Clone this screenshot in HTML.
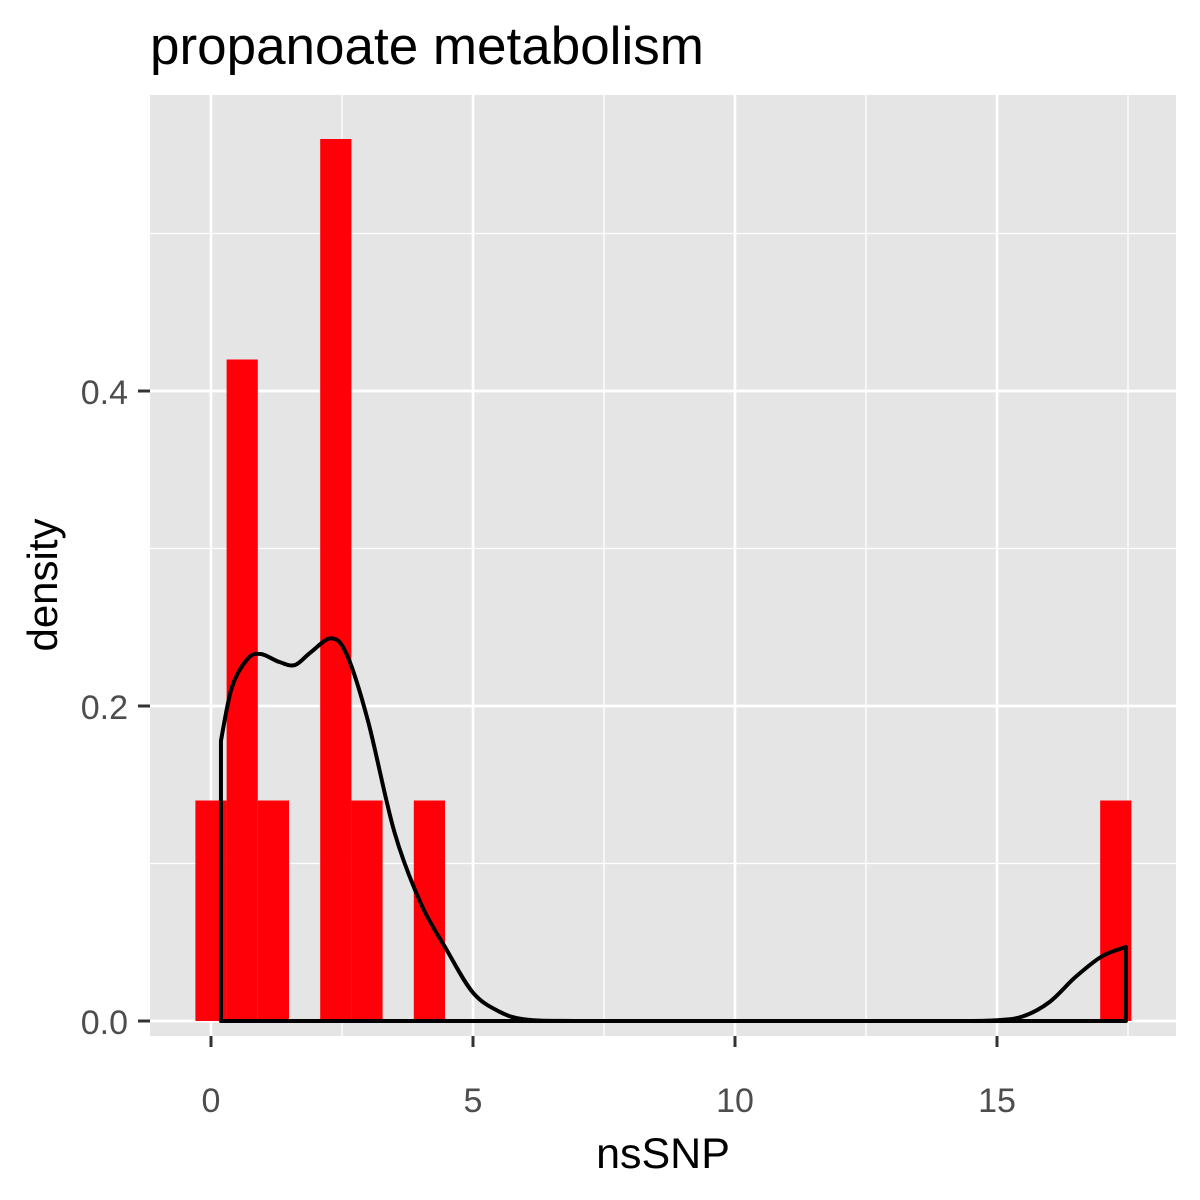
<!DOCTYPE html>
<html><head><meta charset="utf-8"><style>
html,body{margin:0;padding:0;background:#fff;}
svg{display:block;font-family:"Liberation Sans",Arial,sans-serif;}
</style></head><body>
<svg id="chart" width="1200" height="1200" viewBox="0 0 1200 1200" xmlns="http://www.w3.org/2000/svg">
<text x="150" y="64" font-size="53" fill="#000">propanoate metabolism</text>
<rect x="150" y="95" width="1026" height="941" fill="#e5e5e5"/>
<g id="grid"></g>
<g id="bars"></g>
<g id="curve"></g>
<g id="axes"></g>
<text x="663" y="1168" font-size="43" text-anchor="middle" fill="#000">nsSNP</text>
<text transform="translate(57,585) rotate(-90)" font-size="42" text-anchor="middle" fill="#000">density</text>
</svg>
<script>
const binWidth = 0.5954;
const binCenters = [0,1,2,3,4,5,6,7,8,9,10,11,12,13,14,15,16,17,18,19,20,21,22,23,24,25,26,27,28,29];
const binDensity = [0.14,0.42,0.14,0,0.56,0.14,0,0.14,0,0,0,0,0,0,0,0,0,0,0,0,0,0,0,0,0,0,0,0,0,0.14];
const curveX = [0.19,0.4,0.7,0.95,1.3,1.6,1.9,2.3,2.6,3.0,3.5,4.0,4.5,5.0,5.5,6.0,7.0,10,14,15,15.5,16,16.5,17,17.46];
const curveY = [0.178,0.212,0.23,0.233,0.228,0.226,0.234,0.243,0.232,0.19,0.12,0.075,0.045,0.018,0.006,0.001,0,0,0,0.0005,0.003,0.012,0.028,0.041,0.047];
const xMajor = [0,5,10,15], xMinor = [2.5,7.5,12.5,17.5];
const yMajor = [0,0.2,0.4], yMinor = [0.1,0.3,0.5];
const xLabels = ["0","5","10","15"], yLabels = ["0.0","0.2","0.4"];
const X = v => 211 + v*52.4;
const Y = v => 1021 - v*1575;
const NS = "http://www.w3.org/2000/svg";
function mk(tag, attrs, parent){const e=document.createElementNS(NS,tag);for(const k in attrs)e.setAttribute(k,attrs[k]);parent.appendChild(e);return e;}
const grid=document.getElementById('grid'), bars=document.getElementById('bars'), curve=document.getElementById('curve'), axes=document.getElementById('axes');
xMinor.forEach(v=>{const l=mk('line',{x1:X(v),x2:X(v),y1:95,y2:1036,stroke:'#fff','stroke-width':1.3},grid);

});
yMinor.forEach(v=>{const l=mk('line',{x1:150,x2:1176,y1:Y(v),y2:Y(v),stroke:'#fff','stroke-width':1.3},grid);

});
xMajor.forEach((v,i)=>{const l=mk('line',{x1:X(v),x2:X(v),y1:95,y2:1036,stroke:'#fff','stroke-width':2.7},grid);


const t=mk('line',{x1:X(v),x2:X(v),y1:1036,y2:1047,stroke:'#333','stroke-width':3},axes);


const tx=mk('text',{x:X(v),y:1112,'font-size':34,'text-anchor':'middle',fill:'#4d4d4d'},axes);tx.textContent=xLabels[i];

});
yMajor.forEach((v,i)=>{const l=mk('line',{x1:150,x2:1176,y1:Y(v),y2:Y(v),stroke:'#fff','stroke-width':2.7},grid);


const t=mk('line',{x1:138,x2:150,y1:Y(v),y2:Y(v),stroke:'#333','stroke-width':3},axes);


const tx=mk('text',{x:128,y:Y(v)+13,'font-size':34,'text-anchor':'end',fill:'#4d4d4d'},axes);tx.textContent=yLabels[i];

});
binCenters.forEach((c,i)=>{const d=binDensity[i];if(d<=0)return;
const x0=X(c*binWidth-binWidth/2), x1=X(c*binWidth+binWidth/2);
const r=mk('rect',{x:x0,y:Y(d),width:x1-x0,height:Y(0)-Y(d),fill:'#ff0008'},bars);

});
const pts=curveX.map((v,i)=>[X(v),Y(curveY[i])]);
let p='M'+X(curveX[0])+','+Y(0)+' L'+pts[0][0]+','+pts[0][1];
for(let i=0;i<pts.length-1;i++){
  const p0=pts[Math.max(0,i-1)],p1=pts[i],p2=pts[i+1],p3=pts[Math.min(pts.length-1,i+2)];
  const c1=[p1[0]+(p2[0]-p0[0])/6,p1[1]+(p2[1]-p0[1])/6];
  const c2=[p2[0]-(p3[0]-p1[0])/6,p2[1]-(p3[1]-p1[1])/6];
  p+=' C'+c1[0]+','+c1[1]+' '+c2[0]+','+c2[1]+' '+p2[0]+','+p2[1];
}
p+=' L'+X(curveX[curveX.length-1])+','+Y(0)+' Z';
const path=mk('path',{d:p,fill:'none',stroke:'#000','stroke-width':4,'stroke-linejoin':'round'},curve);


</script>
</body></html>
